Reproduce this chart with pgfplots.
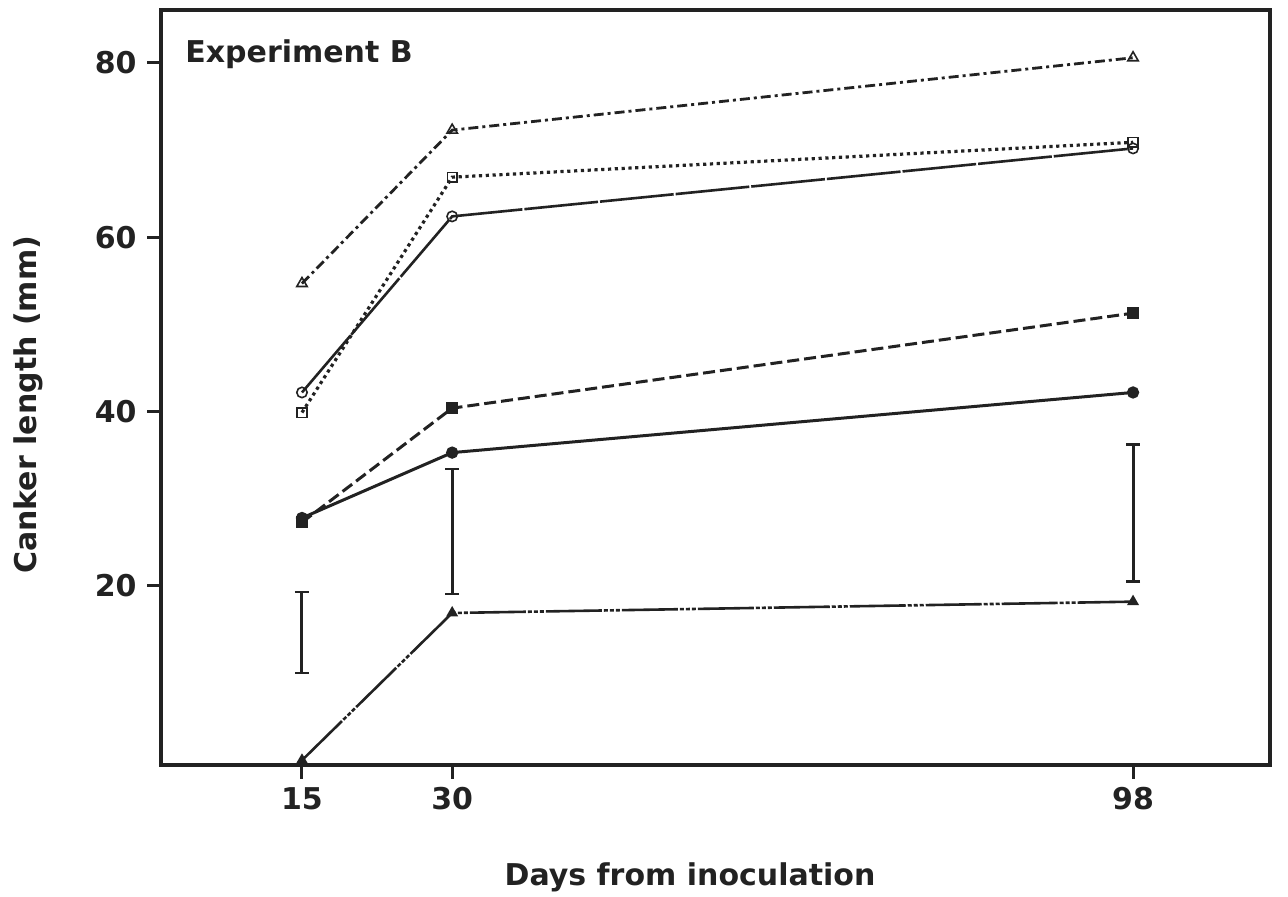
\documentclass[border=0pt]{standalone}
\usepackage{fontspec}
\setmainfont{DejaVu Sans}
\usepackage{pgfplots}
\pgfplotsset{compat=1.18}
\definecolor{ink}{RGB}{34,34,34}
\begin{document}
\begin{tikzpicture}
\path[use as bounding box] (-80.5pt,-66pt) rectangle (563.5pt,382.5pt);
\begin{axis}[
  at={(0,0)}, anchor=south west,
  width=554.5pt, height=377.5pt, scale only axis,
  xmin=0.92, xmax=111.68, ymin=-0.54, ymax=86.08,
  clip=false,
  axis line style={line width=2pt, ink},
  xtick={15,30,98}, ytick={20,40,60,80},
  xtick pos=bottom, ytick pos=left,
  tick align=outside,
  major tick length=7pt,
  tick style={line width=1.5pt, ink},
  /pgf/number format/assume math mode=true,
  tick label style={font=\fontsize{15}{18}\selectfont\bfseries, text=ink},
  yticklabel style={anchor=east, inner sep=0pt, xshift=-5pt},
  xticklabel style={anchor=north, inner sep=0pt, yshift=-4pt},
  xlabel={Days from inoculation},
  ylabel={Canker length (mm)},
  label style={font=\fontsize{15}{18}\selectfont\bfseries, text=ink},
  xlabel style={at={(rel axis cs:0.477,0)}, anchor=base, yshift=-60pt, inner sep=0pt},
  ylabel style={at={(rel axis cs:0,0.477)}, anchor=base, yshift=62pt, inner sep=0pt},
  every axis plot/.append style={ink},
]
% open triangle, dash-dot
\addplot[line width=1.4pt, dash pattern=on 5pt off 2pt on 1.5pt off 2pt,
  mark=triangle, mark size=3pt, mark options={solid, line width=0.8pt, fill=white}]
  coordinates {(15,54.7) (30,72.3) (98,80.6)};
% open square, dotted
\addplot[line width=1.6pt, dash pattern=on 1.6pt off 1.8pt,
  mark=square, mark size=2.4pt, mark options={solid, line width=0.8pt, fill=white}]
  coordinates {(15,39.9) (30,66.9) (98,70.9)};
% open circle, long dashes
\addplot[line width=1.3pt, dash pattern=on 37pt off 1pt,
  mark=o, mark size=2.6pt, mark options={solid, line width=0.8pt, fill=white}]
  coordinates {(15,42.2) (30,62.4) (98,70.2)};
% filled square, dashed
\addplot[line width=1.5pt, dash pattern=on 6pt off 2.5pt,
  mark=square*, mark size=2.2pt, mark options={solid}]
  coordinates {(15,27.3) (30,40.4) (98,51.3)};
% filled circle, solid
\addplot[line width=1.5pt, solid,
  mark=*, mark size=2.3pt, mark options={solid}]
  coordinates {(15,27.8) (30,35.3) (98,42.2)};
% filled triangle
\addplot[line width=1.3pt, dash pattern=on 28pt off 1pt on 2pt off 1pt on 2pt off 1pt on 2pt off 1pt,
  mark=triangle*, mark size=2.2pt, mark options={solid}]
  coordinates {(15,0) (30,16.9) (98,18.2)};
% LSD bars
\addplot[draw=none, mark=none, forget plot,
  error bars/.cd, y dir=both, y explicit,
  error bar style={line width=1.5pt, ink},
  error mark options={rotate=90, mark size=3.5pt, line width=1.3pt, ink}]
  coordinates {(15,14.65) +- (0,4.65) (30,26.25) +- (0,7.15) (98,28.35) +- (0,7.85)};
\node[anchor=base west, inner sep=0pt, font=\fontsize{15}{18}\selectfont\bfseries, text=ink]
  at (rel axis cs:0.0216,0.931) {Experiment B};
\end{axis}
\end{tikzpicture}
\end{document}
